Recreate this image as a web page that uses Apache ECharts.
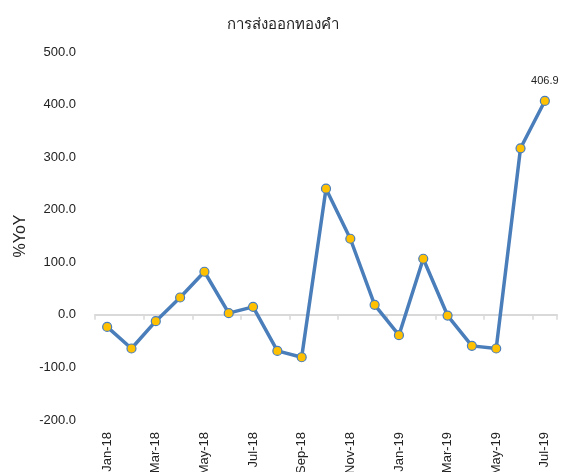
<!DOCTYPE html>
<html>
<head>
<meta charset="utf-8">
<script src="https://cdn.jsdelivr.net/npm/echarts@6/dist/echarts.min.js"></script>
<style>html,body{margin:0;padding:0;background:#fff}#c{width:565px;height:472px}</style>
</head>
<body>
<div id="c"></div>
<script>
const titleText = 'การส่งออกทองคำ';
const yName = '%YoY';
const categories = ['Jan-18','Feb-18','Mar-18','Apr-18','May-18','Jun-18','Jul-18','Aug-18','Sep-18','Oct-18','Nov-18','Dec-18','Jan-19','Feb-19','Mar-19','Apr-19','May-19','Jun-19','Jul-19'];
const values = [-22.9, -64.0, -12.0, 33.0, 82.0, 3.2, 15.2, -68.6, -80.6, 240.0, 144.8, 19.0, -38.7, 106.7, -1.3, -59.0, -64.0, 316.8, 406.9];
const yMin = -200, yMax = 500, yStep = 100;

const chart = echarts.init(document.getElementById('c'), null, {renderer: 'canvas'});
const lastIdx = values.length - 1;
const fam = 'Liberation Sans, Arial, sans-serif';
chart.setOption({
  animation: false,
  title: {
    text: titleText, left: 'center', top: 12,
    textStyle: {fontSize: 15, fontWeight: 'normal', color: '#222', fontFamily: 'sans-serif'}
  },
  grid: {left: 95, right: 8, top: 52, bottom: 52, containLabel: false, outerBoundsMode: 'none'},
  xAxis: [{
    type: 'category', data: categories, boundaryGap: true, position: 'bottom',
    axisLine: {show: false, onZero: false},
    axisTick: {show: false},
    axisLabel: {interval: 1, rotate: 90, margin: 12, fontSize: 13, color: '#222', fontFamily: fam}
  }, {
    type: 'category', data: categories, boundaryGap: true, position: 'bottom',
    axisLine: {show: true, onZero: true, lineStyle: {color: '#d9d9d9', width: 2}},
    axisTick: {show: true, interval: 1, length: 5, lineStyle: {color: '#d9d9d9', width: 1.5}},
    axisLabel: {show: false}
  }],
  yAxis: {
    type: 'value', min: yMin, max: yMax, interval: yStep,
    name: yName, nameLocation: 'middle', nameGap: 63, nameRotate: 90,
    nameTextStyle: {fontSize: 16, color: '#222', fontFamily: fam},
    axisLine: {show: false}, axisTick: {show: false}, splitLine: {show: false},
    axisLabel: {margin: 19, fontSize: 13, color: '#222', fontFamily: fam,
      formatter: v => v.toFixed(1)}
  },
  series: [{
    type: 'line', xAxisIndex: 0, data: values.map((v, i) => i === lastIdx ? {
      value: v, label: {show: true, position: 'top', distance: 9, fontSize: 11, color: '#222',
        fontFamily: fam, formatter: p => p.value.toFixed(1)}
    } : v),
    symbol: 'circle', symbolSize: 9,
    lineStyle: {color: '#4a7ebb', width: 3.5},
    itemStyle: {color: '#ffc000', borderColor: '#4a7ebb', borderWidth: 1.2},
    z: 3
  }]
});
</script>
</body>
</html>
